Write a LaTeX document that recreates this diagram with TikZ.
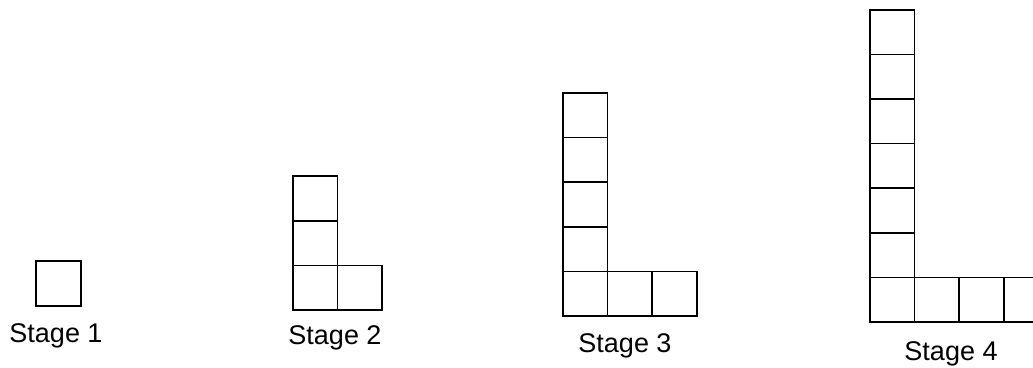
\documentclass[tikz,border=0pt]{standalone}
\usepackage{fontspec}
\setmainfont{Liberation Sans}
\usetikzlibrary{positioning}

\begin{document}
\begin{tikzpicture}[x=1pt, y=-1pt,
    cell/.style={draw, rectangle, minimum size=44.6pt, inner sep=0pt,
                 outer sep=0pt, line width=1.7pt},
    stage/.style={font=\fontsize{27}{32}\selectfont, anchor=base, inner sep=0pt}
  ]
  \useasboundingbox (0,0) rectangle (1033,367);
  \clip (0,0) rectangle (1033,367);

  % Stage 1
  \node[cell] (a0) at (58.5,283.5) {};
  \node[stage] (lab1) at (56,342) {Stage 1};

  % Stage 2
  \node[cell] (b0) at (315.3,287.7) {};
  \node[cell, right=0pt of b0] (br1) {};
  \foreach \n/\prev in {bu1/b0, bu2/bu1}
    \node[cell, above=0pt of \prev] (\n) {};
  \node[stage] (lab2) at (335,344) {Stage 2};

  % Stage 3
  \node[cell] (c0) at (585.3,293.7) {};
  \foreach \n/\prev in {cr1/c0, cr2/cr1}
    \node[cell, right=0pt of \prev] (\n) {};
  \foreach \n/\prev in {cu1/c0, cu2/cu1, cu3/cu2, cu4/cu3}
    \node[cell, above=0pt of \prev] (\n) {};
  \node[stage] (lab3) at (625,352) {Stage 3};

  % Stage 4
  \node[cell] (d0) at (892.3,299.7) {};
  \foreach \n/\prev in {dr1/d0, dr2/dr1, dr3/dr2}
    \node[cell, right=0pt of \prev] (\n) {};
  \foreach \n/\prev in {du1/d0, du2/du1, du3/du2, du4/du3, du5/du4, du6/du5}
    \node[cell, above=0pt of \prev] (\n) {};
  \node[stage] (lab4) at (951,360) {Stage 4};
\end{tikzpicture}
\end{document}
